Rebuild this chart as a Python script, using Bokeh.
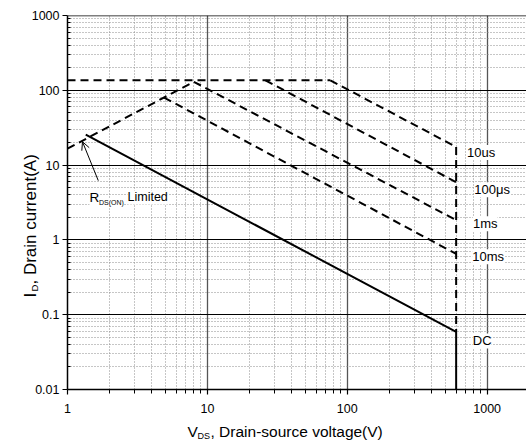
from bokeh.plotting import figure
from bokeh.models import Label, Arrow, OpenHead, Span, FixedTicker, CustomJSTickFormatter
from bokeh.core.properties import value
from bokeh.embed import file_html
from bokeh.resources import INLINE
import math

# ---- data (V_DS in volts, I_D in amperes) ----
limit_v = [1, 75.6]
limit_i = [136, 136]
us10_v = [75.6, 600]
us10_i = [136, 17.5]
us100_v = [26, 600]
us100_i = [136, 5.9]
ms1_v = [8.0, 600]
ms1_i = [130, 1.84]
ms10_v = [4.9, 600]
ms10_i = [80, 0.65]
rds_v = [1, 8.0]
rds_i = [16.6, 130]
vmax_v = [600, 600]
vmax_i = [17.5, 0.059]
dc_v = [1.35, 600, 600]
dc_i = [25.5, 0.059, 0.01]

x_ticks = [1, 10, 100, 1000]
y_ticks = [0.01, 0.1, 1, 10, 100, 1000]
curve_labels = ["10us", "100\u03bcs", "1ms", "10ms", "DC"]

FONT = "Liberation Sans"

x_minor = [m * 10 ** k for k in range(0, 4) for m in range(2, 10)]
y_minor = [m * 10.0 ** k for k in range(-2, 3) for m in range(2, 10)]

p = figure(width=526, height=441, x_axis_type="log", y_axis_type="log",
           x_range=(1, 1910), y_range=(0.01, 1000),
           output_backend="svg", toolbar_location=None,
           min_border_left=67, min_border_right=0, min_border_top=15, min_border_bottom=52)
p.outline_line_color = None
p.background_fill_color = "white"
p.border_fill_color = "white"

fmt = CustomJSTickFormatter(code="return String(Number(tick.toPrecision(6)))")
xt = FixedTicker(ticks=x_ticks, minor_ticks=x_minor)
yt = FixedTicker(ticks=y_ticks, minor_ticks=y_minor)
p.xaxis.ticker = xt
p.yaxis.ticker = yt
p.xgrid.ticker = xt
p.ygrid.ticker = yt
p.xaxis.formatter = fmt
p.yaxis.formatter = fmt

for ax in (p.xaxis, p.yaxis):
    ax.axis_line_color = "black"
    ax.axis_line_width = 1.5
    ax.major_tick_line_color = "black"
    ax.minor_tick_line_color = "black"
    ax.major_tick_line_width = 1.2
    ax.minor_tick_line_width = 1
    ax.major_label_text_font = FONT
    ax.major_label_text_font_size = "12.5px"
    ax.major_label_text_color = "black"

p.xaxis.major_tick_out = 5
p.xaxis.major_tick_in = 0
p.xaxis.minor_tick_out = 4
p.xaxis.minor_tick_in = 0
p.xaxis.major_label_standoff = 9
p.yaxis.major_tick_out = 5
p.yaxis.major_tick_in = 0
p.yaxis.minor_tick_out = 0
p.yaxis.minor_tick_in = 3
p.yaxis.major_label_standoff = 3

p.xgrid.grid_line_color = "#555555"
p.xgrid.grid_line_width = 1.3
p.ygrid.grid_line_color = "black"
p.ygrid.grid_line_width = 1.2
for g in (p.xgrid, p.ygrid):
    g.minor_grid_line_color = "#8c8c8c"
    g.minor_grid_line_dash = "1 2"
    g.minor_grid_line_width = 1

p.add_layout(Span(location=1000, dimension="width", line_color="black", line_width=1.5))

dash = "8 5"
for xs, ys in [(limit_v, limit_i), (us10_v, us10_i), (us100_v, us100_i),
               (ms1_v, ms1_i), (ms10_v, ms10_i), (rds_v, rds_i), (vmax_v, vmax_i)]:
    p.line(xs, ys, line_color="black", line_width=2, line_dash=dash)
p.line(dc_v, dc_i, line_color="black", line_width=2)

# curve labels (white boxes)
label_pos = [(906, 14.7), (1086, 4.69), (968, 1.64), (1016, 0.594), (921, 0.0446)]
for txt, (lx, ly) in zip(curve_labels, label_pos):
    p.add_layout(Label(x=lx, y=ly, text=txt, text_align="center", text_baseline="middle",
                       text_font=FONT, text_font_size="13px", text_color="black",
                       background_fill_color="white"))

# R_DS(ON) Limited annotation
p.add_layout(Arrow(end=OpenHead(size=8, line_width=1, line_color="black"),
                   x_start=1.66, y_start=6.2, x_end=1.28, y_end=20.5,
                   line_color="black", line_width=1))
p.add_layout(Label(x=1, y=3.69, x_offset=22, text="R", text_font=FONT, text_font_size="13.5px",
                   text_color="black", text_baseline="alphabetic", background_fill_color="white"))
p.add_layout(Label(x=1, y=3.69, x_offset=60, text="Limited", text_font=FONT, text_font_size="12.5px",
                   text_color="black", text_baseline="alphabetic", background_fill_color="white"))
p.add_layout(Label(x=1, y=3.16, x_offset=31.5, text="DS(ON)", text_font=FONT, text_font_size="7px",
                   text_color="black", text_baseline="alphabetic", background_fill_color="white"))


def outside_text(x, y, txt, size, dx, angle=0.0):
    # text glyphs on the overlay level so they can sit outside the frame
    p.text(x=[x], y=[y], text=[txt], x_offset=dx, angle=angle,
           text_font=value(FONT), text_font_size=value(size), text_color="black",
           text_align="left", text_baseline="alphabetic", level="overlay")


# x-axis title with subscript
outside_text(1, 0.00275, "V", "15.5px", 120)
outside_text(1, 0.00239, "DS", "9px", 130)
outside_text(1, 0.00275, ", Drain-source voltage(V)", "15.5px", 143)

# y-axis title with subscript
ang = math.pi / 2
outside_text(1, 0.170, "I", "17px", -37, ang)
outside_text(1, 0.204, "D", "9.5px", -33, ang)
outside_text(1, 0.253, ", Drain current(A)", "17px", -37, ang)

open("out.html", "w").write(file_html(p, INLINE))
